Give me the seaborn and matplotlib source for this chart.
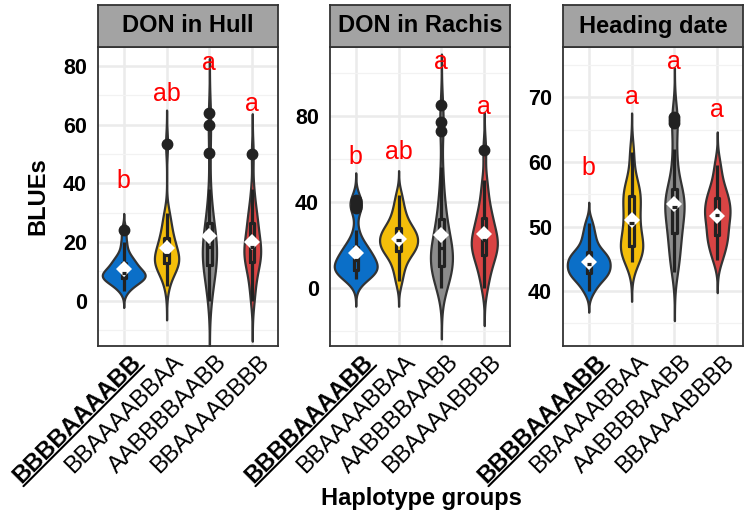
import matplotlib
matplotlib.use("Agg")
import matplotlib.pyplot as plt
import matplotlib.transforms as mtransforms
from matplotlib.lines import Line2D
from matplotlib.ticker import MultipleLocator
import pandas as pd
import seaborn as sns

groups = ["BBBBAAAABB", "BBAAAABBAA", "AABBBBAABB", "BBAAAABBBB"]
colors = ["#0B6FC8", "#F4BE0A", "#8C8C8C", "#D94444"]
traits = ["DON in Hull", "DON in Rachis", "Heading date"]

# BLUEs per haplotype group
hull_g1 = [3.5, 5, 6, 6.5, 7, 7.5, 8, 8, 8.5, 9, 9, 9.5, 10, 10.5, 11, 12, 12.5, 13.5, 14, 15, 17, 20, 24]
hull_g2 = [5, 8, 10, 11, 12, 12.5, 13, 13, 13.5, 14, 14.5, 15, 16, 17, 18, 19, 20, 21, 22, 24, 26, 28, 30, 53.5]
hull_g3 = [0, 3, 6, 8, 10, 11, 12, 13, 14, 15, 16, 17, 18, 19, 20, 21, 22, 24, 25, 27, 30, 32, 38, 50.5, 60, 64]
hull_g4 = [0, 4, 7, 10, 12, 13, 14, 15, 16, 17, 18, 19, 20, 21, 23, 25, 27, 28, 30, 33, 38, 50]

rachis_g1 = [4, 5, 6, 6.5, 7, 7.5, 8, 8.5, 9, 9.5, 10, 11, 12, 12.5, 13, 14, 15, 16, 17, 18, 19, 20, 22, 27, 37, 38, 40, 41]
rachis_g2 = [3, 8, 11, 14, 16, 17, 18, 19, 20, 21, 22, 23, 24, 25, 26, 27, 28, 30, 32, 35, 38, 43]
rachis_g3 = [0, 1, 3, 4, 5, 7, 8, 9, 10, 11, 12, 13, 14, 15, 16, 17, 18, 19, 20, 21, 22, 24, 26, 28, 30, 33, 35, 38, 42, 48, 56, 73, 77, 85]
rachis_g4 = [0, 4, 8, 11, 13, 14, 16, 18, 19, 20, 21, 22, 23, 24, 26, 28, 30, 32, 34, 36, 40, 45, 50, 64]

heading_g1 = [40, 41, 42, 42, 42.5, 43, 43, 43.5, 44, 44, 44.5, 45, 45, 45.5, 46, 46, 47, 48, 49, 50.5]
heading_g2 = [44.5, 45, 46, 46.5, 47, 47, 48, 49, 50, 51, 52, 53, 54, 55, 55.5, 56, 58, 61.5]
heading_g3 = [43, 44, 45, 46, 47, 48, 48.5, 49.5, 50, 51, 51.5, 52, 52.5, 53, 53.5, 54, 54.5, 55, 55, 55.5, 56, 58, 60, 62, 66, 66.5, 67]
heading_g4 = [44.8, 46, 47, 48, 48.5, 49, 50, 51, 51.5, 52, 52.5, 53, 54, 54.5, 55, 56, 57.5, 59.6]

letters_hull = ["b", "ab", "a", "a"]
letters_rachis = ["b", "ab", "a", "a"]
letters_heading = ["b", "a", "a", "a"]

rows = []
for trait, series in zip(traits, [
        [hull_g1, hull_g2, hull_g3, hull_g4],
        [rachis_g1, rachis_g2, rachis_g3, rachis_g4],
        [heading_g1, heading_g2, heading_g3, heading_g4]]):
    for g, vals in zip(groups, series):
        for v in vals:
            rows.append({"trait": trait, "group": g, "value": v})
df = pd.DataFrame(rows)

letters = {"DON in Hull": letters_hull, "DON in Rachis": letters_rachis,
           "Heading date": letters_heading}
ylims = {"DON in Hull": (-15.4, 86.5), "DON in Rachis": (-27, 112),
         "Heading date": (31.5, 77.8)}
major = {"DON in Hull": 20, "DON in Rachis": 40, "Heading date": 10}
letter_pad = {"DON in Hull": 17, "DON in Rachis": 20, "Heading date": 8.5}

sns.set_style("white")
plt.rcParams["font.family"] = ["Liberation Sans", "DejaVu Sans"]
plt.rcParams["text.color"] = "black"
plt.rcParams["xtick.color"] = "black"
plt.rcParams["ytick.color"] = "black"

W, H = 749, 517
fig = plt.figure(figsize=(W / 100, H / 100), dpi=100)
lefts = [98, 330, 563]
pw = 180
top, bottom = 47, 346
edge = "#333333"

axes = []
for left, trait in zip(lefts, traits):
    ax = fig.add_axes([left / W, 1 - bottom / H, pw / W, (bottom - top) / H])
    axes.append(ax)
    d = df[df["trait"] == trait]

    sns.violinplot(data=d, x="group", y="value", hue="group", order=groups,
                   hue_order=groups, palette=colors, legend=False, cut=3,
                   width=1.0, bw_method="silverman", bw_adjust=0.7,
                   density_norm="area", common_norm=True, inner=None,
                   linewidth=1.6, linecolor=edge, saturation=1, ax=ax)
    sns.boxplot(data=d, x="group", y="value", order=groups, width=0.1,
                fill=False, color="#222222", linewidth=2.3, showcaps=False,
                flierprops=dict(marker="o", markersize=7.5,
                                markerfacecolor="#222222",
                                markeredgecolor="#222222"), ax=ax)
    sns.pointplot(data=d, x="group", y="value", order=groups,
                  estimator="mean", errorbar=None, marker="D",
                  linestyle="none", color="white", markersize=8.5,
                  markeredgewidth=0, ax=ax)

    maxes = d.groupby("group")["value"].max().reindex(groups)
    for i, (g, lab) in enumerate(zip(groups, letters[trait])):
        ax.text(i, maxes[g] + letter_pad[trait], lab, color="red",
                fontsize=18, ha="center", va="center")

    ax.set_xlim(-0.6, 3.6)
    ax.set_ylim(*ylims[trait])
    ax.yaxis.set_major_locator(MultipleLocator(major[trait]))
    ax.yaxis.set_minor_locator(MultipleLocator(major[trait] / 2))
    ax.set_axisbelow(True)
    ax.grid(which="major", color="#EBEBEB", linewidth=1.8)
    ax.grid(which="minor", axis="y", color="#F2F2F2", linewidth=0.9)
    for s in ax.spines.values():
        s.set_color(edge)
        s.set_linewidth(1.3)
    ax.tick_params(which="major", length=5, width=1.3, color=edge, pad=3)
    ax.tick_params(axis="x", which="major", pad=0)
    ax.tick_params(which="minor", length=0)
    ax.set_xlabel("")
    ax.set_ylabel("")
    for t in ax.get_yticklabels():
        t.set_fontsize(15.5)
        t.set_fontweight("bold")
        t.set_color("black")
    ax.set_xticks(range(len(groups)))
    ax.set_xticklabels(groups, rotation=45, ha="right", va="top",
                       rotation_mode="anchor", fontsize=17, color="black")
    shift = mtransforms.ScaledTranslation(0.06, 0.02, fig.dpi_scale_trans)
    for t in ax.get_xticklabels():
        t.set_transform(t.get_transform() + shift)
    ax.get_xticklabels()[0].set_fontweight("bold")

    sax = fig.add_axes([left / W, 1 - top / H, pw / W, 42 / H])
    sax.set_facecolor("#A3A3A3")
    sax.set_xticks([])
    sax.set_yticks([])
    for s in sax.spines.values():
        s.set_color(edge)
        s.set_linewidth(1.3)
    sax.text(0.5, 0.5, trait, ha="center", va="center", fontsize=17,
             fontweight="bold", color="black", transform=sax.transAxes)

fig.text(421 / W, 1 - 498 / H, "Haplotype groups", ha="center", va="center",
         fontsize=17, fontweight="bold", color="black")
fig.text(38 / W, 1 - 196 / H, "BLUEs", ha="center", va="center",
         rotation=90, fontsize=17, fontweight="bold", color="black")

# underline the reference haplotype label
fig.canvas.draw()
renderer = fig.canvas.get_renderer()
inv = fig.transFigure.inverted()
for ax in axes:
    lab = ax.get_xticklabels()[0]
    ax_x, ax_y = lab.get_transform().transform(lab.get_position())
    fp = lab.get_fontproperties()
    w, h, dsc = renderer.get_text_width_height_descent(lab.get_text(), fp, ismath=False)
    _, hl, dl = renderer.get_text_width_height_descent("lp", fp, ismath=False)
    hh, dd = max(h, hl), max(dsc, dl)
    v = -(hh - dd) - 2.5
    c = s = 0.7071
    pts = [(ax_x + u * c - v * s, ax_y + u * s + v * c) for u in (-w, 0)]
    pts = inv.transform(pts)
    fig.add_artist(Line2D(pts[:, 0], pts[:, 1], color="black", linewidth=1.5,
                          transform=fig.transFigure))

fig.savefig("out.png", dpi=100)
